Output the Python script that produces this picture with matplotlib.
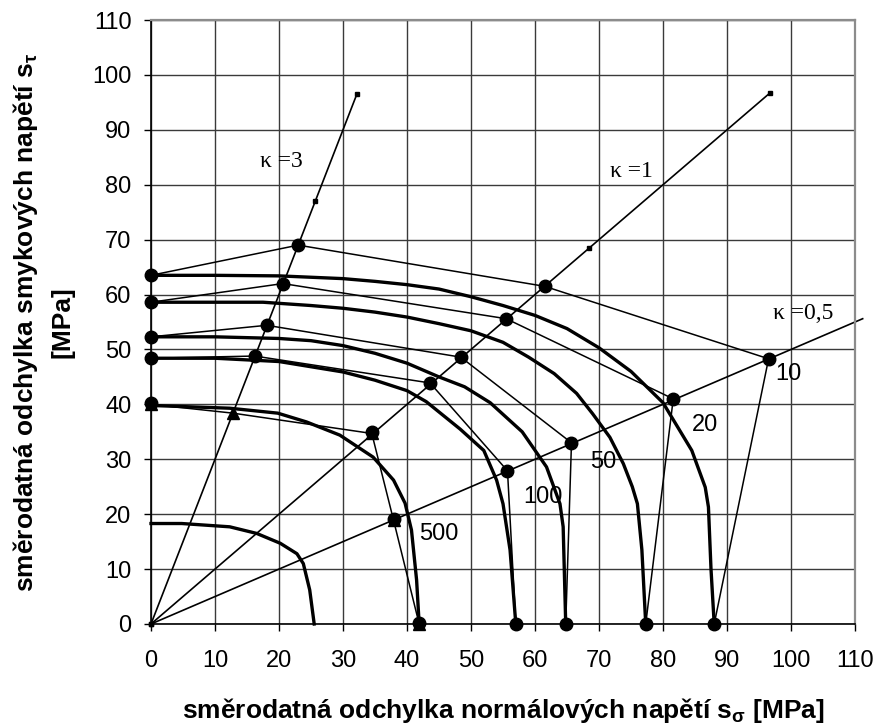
import matplotlib
matplotlib.use("Agg")
import matplotlib.pyplot as plt

# thick curves (x, y)
c10_x = [0, 10, 20, 30, 35, 40, 45, 50, 55, 60, 65, 70, 75, 80, 84.5, 86.6, 87.1, 87.5, 88.0]
c10_y = [63.5, 63.5, 63.4, 62.9, 62.4, 61.8, 61.0, 59.6, 58.0, 56.2, 53.8, 50.3, 46.0, 40.3, 31.6, 24.9, 21.3, 10.0, 0]
c20_x = [0, 10, 17.5, 25, 30, 35, 40, 45, 50, 55, 59, 63, 66.5, 69, 71.7, 73.8, 75.2, 76.0, 76.7, 77.3]
c20_y = [58.6, 58.6, 58.6, 58.0, 57.5, 56.8, 55.9, 54.7, 53.4, 51.3, 48.6, 45.6, 42.0, 38.3, 34.0, 29.2, 25.0, 21.9, 13.5, 0]
c50_x = [0, 10, 20, 25, 30, 35, 40, 45, 49, 53, 58, 61.8, 63.9, 64.4, 64.8]
c50_y = [52.3, 52.3, 52.0, 51.6, 50.7, 49.3, 47.5, 45.0, 43.2, 40.3, 35.0, 28.6, 21.9, 17.7, 0]
c100_x = [0, 10, 20, 30, 35, 40, 43, 48.3, 52, 54, 55, 56.1, 57.0]
c100_y = [48.4, 48.4, 47.8, 45.9, 44.4, 42.5, 40.5, 35.5, 31.6, 26.2, 21.9, 13.5, 0]
c500_x = [0, 12.3, 19.8, 24.3, 29.5, 34.7, 37.9, 39.7, 40.7, 41.5, 41.9]
c500_y = [39.8, 39.3, 38.4, 36.8, 34.4, 30.4, 26.2, 22.0, 17.1, 8.0, 0]
cin_x = [0, 4.8, 12.3, 16.5, 20.2, 22.8, 23.8, 24.8, 25.5]
cin_y = [18.3, 18.3, 17.7, 16.5, 14.7, 12.8, 11.0, 6.2, 0]

# thin polylines with big markers
p10_x = [0, 23.0, 61.5, 96.5, 88.0]
p10_y = [63.5, 69.0, 61.5, 48.3, 0]
p20_x = [0, 20.6, 55.5, 81.6, 77.3]
p20_y = [58.6, 62.0, 55.6, 41.0, 0]
p50_x = [0, 18.1, 48.4, 65.7, 64.8]
p50_y = [52.3, 54.4, 48.6, 33.0, 0]
p100_x = [0, 16.2, 43.6, 55.7, 57.0]
p100_y = [48.4, 48.8, 43.9, 27.9, 0]
p500_x = [0, 12.8, 34.5, 37.9, 41.9]
p500_y = [40.0, 38.4, 34.7, 18.9, 0]
p500c_x = [0, 34.5, 37.9, 41.9]
p500c_y = [40.2, 34.9, 19.1, 0.2]

# kappa rays
k3_x = [0, 12.8, 25.7, 32.2]
k3_y = [0, 38.4, 77.1, 96.6]
k1_x = [0, 68.4, 96.7]
k1_y = [0, 68.4, 96.7]
k05_x = [0, 111.2]
k05_y = [0, 55.6]

curve_labels = ["10", "20", "50", "100", "500"]
label_x = [99.6, 86.6, 70.7, 61.3, 44.9]
label_y = [45.6, 36.2, 29.5, 23.2, 16.4]

plt.rcParams['font.family'] = ['Liberation Sans', 'DejaVu Sans']
plt.rcParams['mathtext.fontset'] = 'custom'
plt.rcParams['mathtext.rm'] = 'Liberation Sans:bold'
plt.rcParams['mathtext.it'] = 'Liberation Sans:bold'
plt.rcParams['mathtext.bf'] = 'Liberation Sans:bold'

fig = plt.figure(figsize=(8.8, 7.27), dpi=100)
ax = fig.add_axes([151 / 880, 1 - 624 / 727, 704 / 880, 604 / 727])

# rays
ax.plot(k3_x, k3_y, color='black', lw=1.2, marker='s', ms=2.5, clip_on=False)
ax.plot(k1_x, k1_y, color='black', lw=1.2, marker='s', ms=2.5, clip_on=False)
ax.plot(k05_x, k05_y, color='black', lw=1.2, clip_on=False)

# thick curves
for cx, cy in [(c10_x, c10_y), (c20_x, c20_y), (c50_x, c50_y),
               (c100_x, c100_y), (c500_x, c500_y), (cin_x, cin_y)]:
    ax.plot(cx, cy, color='black', lw=2.4, solid_joinstyle='round', clip_on=False)

# thin polylines
for px, py in [(p10_x, p10_y), (p20_x, p20_y), (p50_x, p50_y), (p100_x, p100_y)]:
    ax.plot(px, py, color='black', lw=1.1, marker='o', ms=9, clip_on=False)
ax.plot(p500_x, p500_y, color='black', lw=1.1, marker='^', ms=9, clip_on=False)
ax.plot(p500c_x, p500c_y, color='black', lw=0, marker='o', ms=9, clip_on=False)

for t, x, y in zip(curve_labels, label_x, label_y):
    ax.text(x, y, t, fontsize=17, ha='center', va='center')

serif = ['Liberation Serif', 'DejaVu Serif']
ax.text(20.4, 84.2, "κ =3", fontsize=17, family=serif, ha='center', va='center')
ax.text(75.1, 82.5, "κ =1", fontsize=17, family=serif, ha='center', va='center')
ax.text(101.9, 56.5, "κ =0,5", fontsize=17, family=serif, ha='center', va='center')

ax.set_xlim(0, 110)
ax.set_ylim(0, 110)
ax.set_xticks(range(0, 111, 10))
ax.set_yticks(range(0, 111, 10))
ax.grid(True, color='#3a3a3a', lw=1.0)
ax.set_axisbelow(True)
ax.tick_params(axis='both', labelsize=17, length=5, width=1, direction='out')
ax.tick_params(axis='x', pad=14)
ax.tick_params(axis='y', pad=9)
for s in ['top', 'right']:
    ax.spines[s].set_color('#8c8c8c')
    ax.spines[s].set_linewidth(1.6)
for s in ['left', 'bottom']:
    ax.spines[s].set_color('black')
    ax.spines[s].set_linewidth(1.2)

fig.text(503 / 880, 9 / 727, r"směrodatná odchylka normálových napětí s$_\sigma$ [MPa]",
         fontsize=19, fontweight='bold', ha='center', va='baseline')
fig.text(26 / 880, 1 - 322 / 727, r"směrodatná odchylka smykových napětí s$_\tau$",
         fontsize=19, fontweight='bold', rotation=90, ha='center', va='center')
fig.text(62 / 880, 1 - 322 / 727, "[MPa]",
         fontsize=19, fontweight='bold', rotation=90, ha='center', va='center')

fig.savefig("out.png", dpi=100)
